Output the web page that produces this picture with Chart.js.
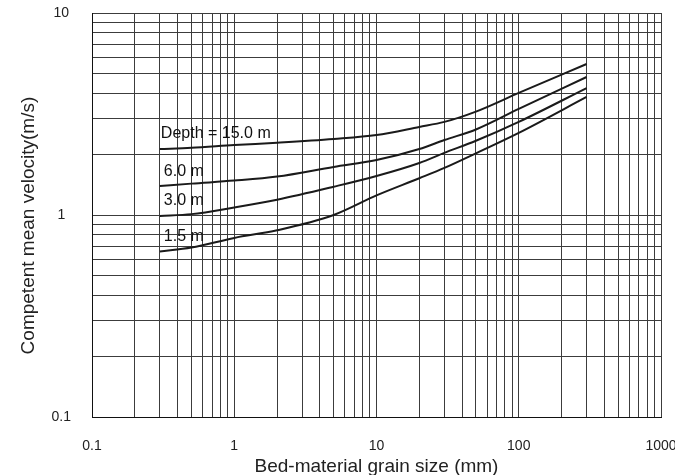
<!DOCTYPE html>
<html lang="en">
<head>
    <meta charset="UTF-8">
    <title>Competent mean velocity</title>
    <script src="https://cdn.jsdelivr.net/npm/chart.js"></script>
    <style>
        body { margin: 0; background: #fff; }
    </style>
</head>
<body>
    <canvas id="velChart" width="675" height="475"></canvas>
    <script>
        // grain size (mm) where the curves were read
        const grainSize = [0.3, 0.5, 1, 2, 5, 10, 20, 30, 50, 100, 300];

        // competent mean velocity (m/s) for each flow depth
        const depth15 = [2.12, 2.15, 2.22, 2.28, 2.38, 2.49, 2.73, 2.89, 3.25, 4.02, 5.59];
        const depth6 = [1.39, 1.43, 1.48, 1.55, 1.73, 1.87, 2.12, 2.35, 2.65, 3.35, 4.82];
        const depth3 = [0.99, 1.01, 1.09, 1.19, 1.38, 1.56, 1.81, 2.03, 2.33, 2.89, 4.25];
        const depth1_5 = [0.66, 0.69, 0.77, 0.84, 1.0, 1.25, 1.52, 1.71, 2.02, 2.55, 3.84];

        const seriesLabels = ['Depth = 15.0 m', '6.0 m', '3.0 m', '1.5 m'];
        const seriesValues = [depth15, depth6, depth3, depth1_5];

        const xLabels = [0.1, 1, 10, 100, 1000];
        const yLabels = [0.1, 1, 10];

        // grid lines at 1..9 of every decade
        function decadeTicks(min, max) {
            const out = [];
            for (let e = Math.log10(min); e < Math.log10(max); e++) {
                for (let s = 1; s <= 9; s++) out.push(Number((s * Math.pow(10, e)).toPrecision(3)));
            }
            out.push(max);
            return out;
        }

        // keep the plot box fixed, labels may hang over it
        function noPad(s) {
            s.paddingTop = 0;
            s.paddingBottom = 0;
            s.paddingLeft = 0;
            s.paddingRight = 0;
        }

        const font = "'Liberation Sans', Arial, sans-serif";
        const gridColor = '#3c3c3c';

        const curveLabels = {
            id: 'curveLabels',
            afterDatasetsDraw(chart) {
                const ctx = chart.ctx;
                ctx.save();
                ctx.fillStyle = '#111';
                ctx.font = '16px ' + font;
                ctx.textBaseline = 'middle';
                ctx.textAlign = 'left';
                chart.data.datasets.forEach((ds, i) => {
                    const pt = chart.getDatasetMeta(i).data[0];
                    const dx = i === 0 ? 1 : 4;
                    ctx.fillText(ds.label, pt.x + dx, pt.y - 15);
                });
                ctx.restore();
            }
        };

        const ctx = document.getElementById('velChart').getContext('2d');
        new Chart(ctx, {
            type: 'line',
            data: {
                datasets: seriesValues.map((vals, i) => ({
                    label: seriesLabels[i],
                    data: grainSize.map((g, j) => ({ x: g, y: vals[j] })),
                    borderColor: '#1a1a1a',
                    borderWidth: 2,
                    pointRadius: 0,
                    fill: false,
                    cubicInterpolationMode: 'monotone'
                }))
            },
            options: {
                responsive: false,
                animation: false,
                layout: { autoPadding: false, padding: { top: 13, right: 14, left: 0, bottom: 0 } },
                plugins: {
                    legend: { display: false },
                    tooltip: { enabled: false }
                },
                scales: {
                    x: {
                        type: 'logarithmic',
                        min: 0.1,
                        max: 1000,
                        afterBuildTicks: s => { s.ticks = decadeTicks(0.1, 1000).map(v => ({ value: v })); },
                        afterFit: s => { s.height = 58; noPad(s); },
                        grid: { color: gridColor, lineWidth: 1, drawTicks: false },
                        border: { color: '#111', width: 1 },
                        ticks: {
                            autoSkip: false,
                            maxRotation: 0,
                            padding: 21,
                            color: '#222',
                            font: { family: font, size: 14 },
                            callback: v => xLabels.includes(v) ? String(v) : ''
                        },
                        title: {
                            display: true,
                            text: 'Bed-material grain size (mm)',
                            color: '#222',
                            font: { family: font, size: 19 },
                            padding: { top: -3, bottom: -3 }
                        }
                    },
                    y: {
                        type: 'logarithmic',
                        min: 0.1,
                        max: 10,
                        afterBuildTicks: s => { s.ticks = decadeTicks(0.1, 10).map(v => ({ value: v })); },
                        afterFit: s => { s.width = 92; noPad(s); },
                        grid: { color: gridColor, lineWidth: 1, drawTicks: false },
                        border: { color: '#111', width: 1 },
                        ticks: {
                            autoSkip: false,
                            crossAlign: 'center',
                            padding: 21,
                            color: '#222',
                            font: { family: font, size: 14 },
                            callback: v => yLabels.includes(v) ? String(v) : ''
                        },
                        title: {
                            display: true,
                            text: 'Competent mean velocity(m/s)    ',
                            color: '#222',
                            font: { family: font, size: 19 },
                            padding: { top: 17, bottom: 17 }
                        }
                    }
                }
            },
            plugins: [curveLabels]
        });
    </script>
</body>
</html>
